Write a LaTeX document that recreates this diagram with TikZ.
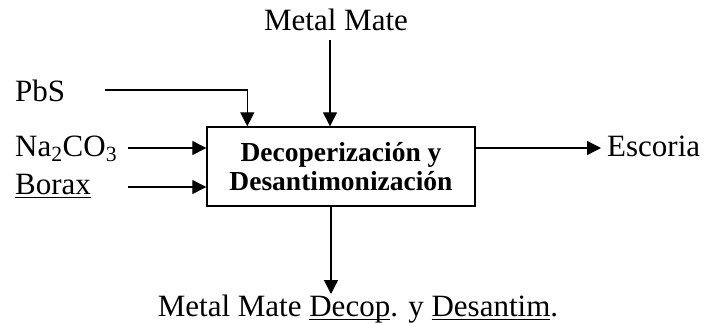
\documentclass[tikz,border=0pt]{standalone}
\usepackage{fontspec}
\setmainfont{Liberation Serif}
\usetikzlibrary{arrows.meta}
\newcommand\myul[1]{\setbox0\hbox{#1}\rlap{\rule[-4pt]{\wd0}{1.2pt}}\box0}
\begin{document}
\begin{tikzpicture}[x=1pt,y=-1pt,
  lbl/.style={inner sep=0pt,font=\fontsize{31}{34}\selectfont},
  proc/.style={draw,line width=1.4pt,minimum width=268pt,minimum height=79pt,inner sep=0pt,align=center,font=\fontsize{27.5}{29}\selectfont\bfseries},
  arr/.style={line width=1.3pt,-{Triangle[length=14pt,width=14pt]}}]
\useasboundingbox (0,0) rectangle (717,322);
\node[proc] (box) at (341,166.5) {Decoperización y\\Desantimonización};
\node[lbl,anchor=base] (mm) at (336,30) {Metal Mate};
\node[lbl,anchor=base west] (pbs) at (15,101) {PbS};
\node[lbl,anchor=base west] (na) at (15,156) {Na\textsubscript{2}CO\textsubscript{3}};
\node[lbl,anchor=base west] (bor) at (15,194) {\myul{Borax}};
\node[lbl,anchor=base west] (esc) at (607,156) {Escoria};
\node[lbl,anchor=base] (out) at (358,316) {Metal Mate \myul{Decop}. y \myul{Desantim}.};
\coordinate (mmS) at (330,40);
\coordinate (pbsS) at (105,90);
\coordinate (naS) at (128,148);
\coordinate (borS) at (128,187);
\coordinate (escE) at (601,148);
\coordinate (outE) at (331,294);
\draw[arr] (mmS) -- (mmS |- box.north);
\draw[arr] (pbsS) -| ([xshift=41pt]box.north west);
\draw[arr] (naS) -- (naS -| box.west);
\draw[arr] (borS) -- (borS -| box.west);
\draw[arr] (escE -| box.east) -- (escE);
\draw[arr] (outE |- box.south) -- (outE);
\end{tikzpicture}
\end{document}
